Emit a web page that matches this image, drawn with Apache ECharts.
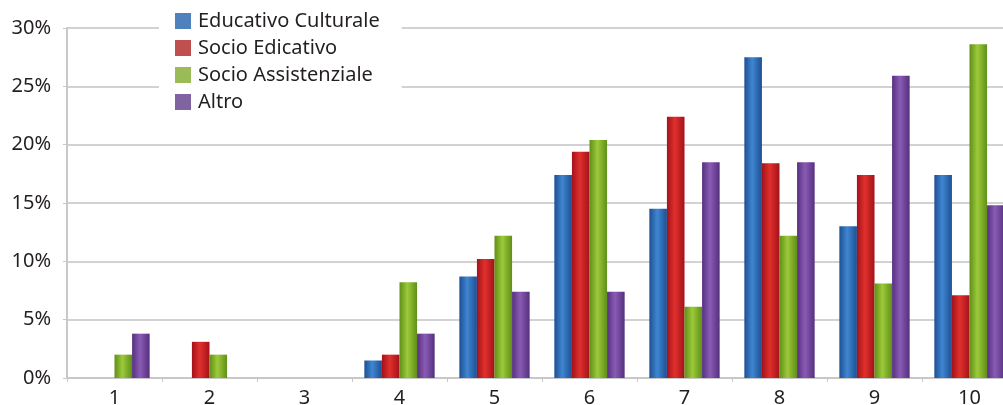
<!DOCTYPE html>
<html>
<head>
<meta charset="utf-8">
<script src="https://cdn.jsdelivr.net/npm/echarts@6/dist/echarts.min.js"></script>
<style>
  html, body { margin: 0; padding: 0; background: #fff; }
  #chart { width: 1003px; height: 405px; }
</style>
</head>
<body>
<div id="chart"></div>
<script>
// categories and values (percent)
const categories = ["1", "2", "3", "4", "5", "6", "7", "8", "9", "10"];
const seriesNames = ["Educativo Culturale", "Socio Edicativo", "Socio Assistenziale", "Altro"];
const educativoCulturale = [0, 0, 0, 1.5, 8.7, 17.4, 14.5, 27.5, 13.0, 17.4];
const socioEdicativo = [0, 3.1, 0, 2.0, 10.2, 19.4, 22.4, 18.4, 17.4, 7.1];
const socioAssistenziale = [2.0, 2.0, 0, 8.2, 12.2, 20.4, 6.1, 12.2, 8.1, 28.6];
const altro = [3.8, 0, 0, 3.8, 7.4, 7.4, 18.5, 18.5, 25.9, 14.8];

const legendColors = ["#4f81bd", "#c0504d", "#9bbb59", "#8064a2"];
// dark edge / light middle, for the cylinder look
const barShades = [
  ["#1d4f93", "#3f86d0", "#1d4f93"],
  ["#a3121a", "#e0302c", "#a3121a"],
  ["#5f8f17", "#9cc93a", "#5f8f17"],
  ["#55307e", "#8a5bb4", "#55307e"],
];

const chart = echarts.init(document.getElementById("chart"));

const grad = (c) =>
  new echarts.graphic.LinearGradient(0, 0, 1, 0, [
    { offset: 0, color: c[0] },
    { offset: 0.45, color: c[1] },
    { offset: 1, color: c[2] },
  ]);

const allData = [educativoCulturale, socioEdicativo, socioAssistenziale, altro];

const series = allData.map((d, i) => ({
  name: seriesNames[i],
  type: "bar",
  data: d,
  barGap: "0%",
  barCategoryGap: "26%",
  itemStyle: { color: grad(barShades[i]) },
}));

const option = {
  animation: false,
  textStyle: { fontFamily: "Noto Sans" },
  // plot runs past the right edge of the picture
  grid: { left: 67, width: 950, top: 28, bottom: 27, containLabel: false, outerBoundsMode: "none" },
  legend: {
    orient: "vertical",
    left: 159,
    top: 0,
    padding: [11, 22, 10, 16],
    backgroundColor: "#fff",
    itemWidth: 16,
    itemHeight: 16,
    itemGap: 7,
    icon: "rect",
    textStyle: { fontSize: 20, color: "#231f20", padding: [0, 0, 0, 2] },
    data: seriesNames.map((n, i) => ({ name: n, itemStyle: { color: legendColors[i] } })),
    z: 10,
  },
  xAxis: {
    type: "category",
    data: categories,
    axisLine: { lineStyle: { color: "#c8c8c8", width: 2 } },
    axisTick: { show: true, length: 4, lineStyle: { color: "#c8c8c8" } },
    axisLabel: { fontSize: 20, color: "#231f20", margin: 10 },
  },
  yAxis: {
    type: "value",
    min: 0,
    max: 30,
    interval: 5,
    axisLine: { show: true, lineStyle: { color: "#c8c8c8", width: 2 } },
    axisTick: { show: true, length: 4, lineStyle: { color: "#c8c8c8" } },
    splitLine: { lineStyle: { color: "#d2d2d2", width: 2 } },
    axisLabel: { fontSize: 20, color: "#231f20", margin: 16, formatter: "{value}%" },
  },
  series,
};

chart.setOption(option);
</script>
</body>
</html>
